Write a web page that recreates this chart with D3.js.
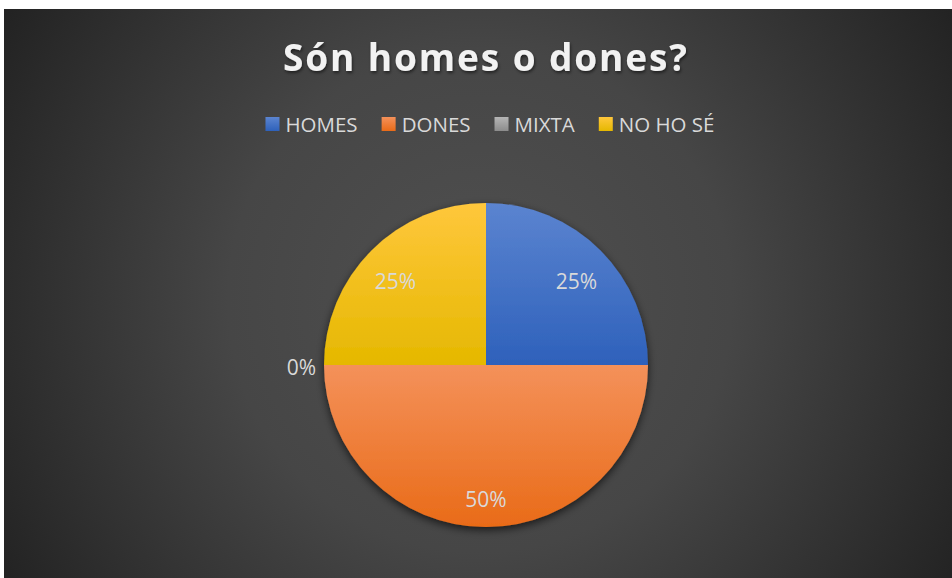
<!doctype html>
<html lang="ca">
<head>
<meta charset="UTF-8" />
<title>Són homes o dones?</title>
<script src="https://d3js.org/d3.v7.min.js"></script>
<style>
  body { margin: 0; background: #fff; }
  svg { display: block; }
  .legend text, .label { font-family: "Open Sans", sans-serif; fill: #d9d9d9; }
</style>
</head>
<body>
<svg width="952" height="578"></svg>
<script>
const categories = ['HOMES', 'DONES', 'MIXTA', 'NO HO SÉ']
const values = [25, 50, 0, 25]
const colors = [
  ['#5b84d0', '#2e61bb'],
  ['#f4915a', '#e96b18'],
  ['#b5b5b5', '#8c8c8c'],
  ['#ffc73c', '#e5b800']
]

const svg = d3.select('svg')
const W = 952, H = 578
const cx = 486, cy = 365, r = 162

const defs = svg.append('defs')
const bg = defs.append('radialGradient').attr('id', 'bg')
  .attr('gradientUnits', 'userSpaceOnUse')
  .attr('cx', 480).attr('cy', 300).attr('r', 560)
bg.append('stop').attr('offset', '0%').attr('stop-color', '#505050')
bg.append('stop').attr('offset', '45%').attr('stop-color', '#464646')
bg.append('stop').attr('offset', '100%').attr('stop-color', '#222')

colors.forEach((c, i) => {
  const g = defs.append('linearGradient').attr('id', 'g' + i)
    .attr('x1', 0).attr('y1', 0).attr('x2', 0).attr('y2', 1)
  g.append('stop').attr('offset', '0%').attr('stop-color', c[0])
  g.append('stop').attr('offset', '100%').attr('stop-color', c[1])
})

const sh = defs.append('filter').attr('id', 'shadow')
  .attr('x', '-20%').attr('y', '-20%').attr('width', '140%').attr('height', '140%')
sh.append('feDropShadow').attr('dx', 0).attr('dy', 3).attr('stdDeviation', 4)
  .attr('flood-color', '#000').attr('flood-opacity', 0.65)

const tsh = defs.append('filter').attr('id', 'tshadow')
tsh.append('feDropShadow').attr('dx', 1).attr('dy', 2).attr('stdDeviation', 1.5)
  .attr('flood-color', '#000').attr('flood-opacity', 0.5)

svg.append('rect')
  .attr('x', 4).attr('y', 9).attr('width', W - 4).attr('height', H - 9)
  .attr('fill', 'url(#bg)')

svg.append('text')
  .attr('x', 485).attr('y', 71)
  .attr('text-anchor', 'middle')
  .attr('textLength', 404).attr('lengthAdjust', 'spacing')
  .attr('font-family', '"Open Sans", sans-serif')
  .attr('font-weight', 700).attr('font-size', 37)
  .attr('fill', '#f2f2f2')
  .attr('filter', 'url(#tshadow)')
  .text('Són homes o dones?')

// legend
const legend = svg.append('g').attr('class', 'legend')
let lx = 0
categories.forEach((c, i) => {
  const g = legend.append('g')
  g.append('rect').attr('x', 0).attr('y', -7).attr('width', 14).attr('height', 14)
    .attr('fill', `url(#g${i})`)
  const t = g.append('text').attr('x', 20).attr('y', 7.5).attr('font-size', 20.5).text(c)
  const w = 20 + t.node().getComputedTextLength()
  g.attr('transform', `translate(${lx},124)`)
  lx += w + 24
})
const legendW = lx - 24
legend.attr('transform', `translate(${490 - legendW / 2},0)`)

// pie
const pie = d3.pie().sort(null).value(d => d).startAngle(0).endAngle(2 * Math.PI)
const arcs = pie(values)
const arc = d3.arc().innerRadius(0).outerRadius(r)

const pg = svg.append('g').attr('transform', `translate(${cx},${cy})`)
pg.append('g').attr('filter', 'url(#shadow)')
  .selectAll('path')
  .data(arcs)
  .join('path')
  .attr('d', arc)
  .attr('fill', (d, i) => `url(#g${i})`)

const labelArc = d3.arc().innerRadius(r * 0.79).outerRadius(r * 0.79)
pg.selectAll('text.label')
  .data(arcs)
  .join('text')
  .attr('class', 'label')
  .attr('font-size', 21)
  .attr('dominant-baseline', 'central')
  .attr('text-anchor', d => d.value === 0 ? 'end' : 'middle')
  .attr('transform', d => {
    if (d.value === 0) {
      const a = d.startAngle
      return `translate(${Math.sin(a) * (r + 8)},${-Math.cos(a) * (r + 8) + 2})`
    }
    const [x, y] = labelArc.centroid(d)
    return `translate(${x},${y + (Math.abs(y) < 130 ? 6 : -2)})`
  })
  .text(d => d.value + '%')
</script>
</body>
</html>
